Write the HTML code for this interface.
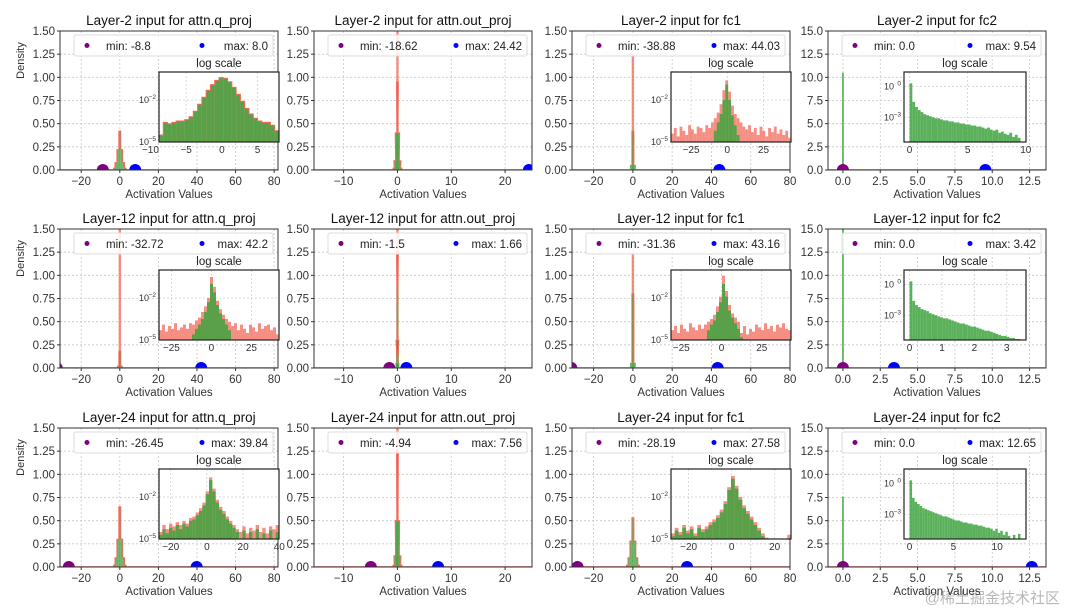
<!DOCTYPE html>
<html><head><meta charset="utf-8">
<style>
html,body{margin:0;padding:0;background:#fff;}
svg{display:block;font-family:"Liberation Sans","DejaVu Sans",sans-serif;}
</style></head>
<body>
<svg id="fig" width="1066" height="610" viewBox="0 0 1066 610" xmlns="http://www.w3.org/2000/svg">
<text x="1060" y="603" text-anchor="end" font-size="15" fill="#b8b8b8" font-family="Liberation Sans, Noto Sans CJK SC, sans-serif">@稀土掘金技术社区</text>
</svg>
<script>
// ---------- data ----------
const titles = [
 "Layer-2 input for attn.q_proj","Layer-2 input for attn.out_proj","Layer-2 input for fc1","Layer-2 input for fc2",
 "Layer-12 input for attn.q_proj","Layer-12 input for attn.out_proj","Layer-12 input for fc1","Layer-12 input for fc2",
 "Layer-24 input for attn.q_proj","Layer-24 input for attn.out_proj","Layer-24 input for fc1","Layer-24 input for fc2"];
const minVals = [-8.8,-18.62,-38.88,0.0, -32.72,-1.5,-31.36,0.0, -26.45,-4.94,-28.19,0.0];
const maxVals = [8.0,24.42,44.03,9.54, 42.2,1.66,43.16,3.42, 39.84,7.56,27.58,12.65];
const minLabels = ["-8.8","-18.62","-38.88","0.0","-32.72","-1.5","-31.36","0.0","-26.45","-4.94","-28.19","0.0"];
const maxLabels = ["8.0","24.42","44.03","9.54","42.2","1.66","43.16","3.42","39.84","7.56","27.58","12.65"];
// main-plot histogram near zero: bin width and densities (green)
const mainBinW = [1,0.25,1,0.1, 1,0.1,1,0.1, 1,0.25,1,0.1];
const mainDens = [
 [0.02,0.08,0.22,0.42,0.22,0.08,0.02],
 [0.02,0.1,0.4,0.95,0.4,0.1,0.02],
 [0.05,0.42,0.05],
 [10.5],
 [0.02,0.18,0.02],
 [0.05,0.3,1.25,0.3,0.05],
 [0.05,0.8,0.05],
 [15.5],
 [0.02,0.1,0.3,0.65,0.3,0.1,0.02],
 [0.02,0.12,0.5,1.25,0.5,0.12,0.02],
 [0.02,0.1,0.28,0.53,0.28,0.1,0.02],
 [7.6]];
// red spike at zero (other series), 0 = none
const redSpike = [0,1.6,1.25,0, 1.6,1.6,1.25,0, 0,1.6,0,0];
// inset log10 densities (red = outline series, green = fill series)
const insetRed = [
 [-4.5,-3.6,-3.7,-3.6,-3.5,-3.5,-3.4,-3.2,-2.8,-2.3,-1.8,-1.3,-0.9,-0.6,-0.4,-0.45,-0.7,-1.1,-1.6,-2.1,-2.6,-3.0,-3.3,-3.5,-3.6,-3.6,-3.8,-4.2],
 null,
 [-4.4,-4.0,-4.6,-3.9,-4.2,-4.5,-3.8,-4.1,-4.4,-3.9,-4.0,-4.3,-3.8,-4.0,-3.6,-3.3,-2.9,-2.3,-1.3,-0.6,-1.4,-2.4,-3.0,-3.3,-3.6,-3.9,-4.1,-3.8,-4.3,-4.0,-4.5,-3.9,-4.2,-4.6,-4.0,-4.3,-3.9,-4.4,-4.1,-4.5,-4.2,-4.7],
 null,
 [-4.3,-3.9,-4.4,-4.0,-4.2,-3.8,-4.3,-4.1,-3.9,-4.2,-3.8,-3.9,-3.6,-3.4,-3.0,-2.6,-2.0,-0.5,-1.2,-2.2,-2.8,-3.2,-3.5,-3.7,-4.0,-3.8,-4.3,-3.9,-4.2,-4.5,-3.9,-4.1,-4.4,-3.8,-4.2,-4.0,-3.9,-4.3,-4.1,-4.6],
 null,
 [-4.3,-4.0,-4.5,-3.9,-4.2,-4.4,-3.8,-4.1,-4.3,-3.9,-4.2,-3.9,-3.7,-3.5,-3.2,-2.6,-1.9,-0.4,-1.5,-2.5,-3.1,-3.4,-3.7,-4.5,-4.0,-4.6,-4.2,-4.4,-3.9,-4.1,-4.3,-3.8,-4.2,-4.0,-4.4,-3.9,-4.1,-3.8,-4.2,-4.3],
 null,
 [-4.5,-4.0,-4.3,-3.9,-4.1,-3.8,-4.0,-3.7,-3.9,-3.5,-3.4,-3.1,-2.8,-2.4,-1.6,-0.6,-1.4,-2.2,-2.7,-3.0,-3.4,-3.7,-4.0,-4.3,-4.5,-4.1,-4.6,-4.2,-4.4,-4.0,-4.5,-4.2,-4.6,-4.1,-4.3,-4.0],
 null,
 [-4.6,-4.2,-4.5,-4.0,-4.4,-4.1,-4.6,-4.0,-4.3,-4.1,-3.8,-3.6,-3.3,-2.9,-2.3,-1.3,-0.5,-1.2,-2.0,-2.6,-3.0,-3.4,-3.8,-4.2,-4.6,-4.9,-5.2,-9,-9,-9,-9,-4.7],
 null];
const insetGreen = [
 [-4.5,-3.6,-3.7,-3.6,-3.5,-3.5,-3.4,-3.2,-2.8,-2.3,-1.8,-1.3,-0.9,-0.6,-0.4,-0.45,-0.7,-1.1,-1.6,-2.1,-2.6,-3.0,-3.3,-3.5,-3.6,-3.6,-3.8,-4.2],
 null,
 [-9,-9,-9,-9,-9,-9,-9,-9,-9,-9,-9,-9,-9,-9,-9,-4.2,-3.6,-3.0,-2.0,-0.9,-2.0,-3.1,-3.8,-4.5,-9,-9,-9,-9,-9,-9,-9,-9,-9,-9,-9,-9,-9,-9,-9,-9,-9,-9],
 [0.3,-1.5,-2.0,-2.3,-2.5,-2.7,-2.8,-2.9,-3.0,-3.1,-3.1,-3.2,-3.3,-3.3,-3.4,-3.4,-3.5,-3.5,-3.6,-3.6,-3.7,-3.7,-3.8,-3.8,-3.9,-3.9,-4.0,-4.1,-4.0,-4.2,-4.3,-4.2,-4.5,-4.4,-4.6,-4.7,-4.5,-4.9,-4.7,-5.0],
 [-9,-9,-9,-9,-9,-9,-9,-9,-9,-9,-9,-4.6,-4.2,-3.9,-3.5,-3.0,-2.3,-1.0,-1.6,-2.5,-3.1,-3.5,-3.9,-4.3,-9,-9,-9,-9,-9,-9,-9,-9,-9,-9,-9,-9,-9,-9,-9,-9],
 null,
 [-9,-9,-9,-9,-9,-9,-9,-9,-9,-9,-9,-9,-4.3,-3.9,-3.6,-3.0,-2.3,-1.0,-1.9,-2.9,-3.4,-3.8,-4.2,-4.8,-9,-9,-9,-9,-9,-9,-9,-9,-9,-9,-9,-9,-9,-9,-9,-9],
 [0.3,-1.6,-2.0,-2.2,-2.4,-2.5,-2.6,-2.8,-2.9,-3.0,-3.1,-3.2,-3.3,-3.3,-3.4,-3.5,-3.6,-3.7,-3.8,-3.8,-3.9,-4.0,-4.1,-4.1,-4.2,-4.3,-4.4,-4.5,-4.5,-4.6,-4.7,-4.8,-4.9,-5.0,-5.0,-5.1,-5.2,-5.2,-5.3,-5.3],
 [-4.7,-4.3,-4.6,-4.2,-4.4,-4.0,-4.3,-3.9,-4.1,-3.7,-3.6,-3.3,-3.0,-2.6,-1.8,-0.8,-1.6,-2.4,-2.9,-3.2,-3.6,-3.9,-4.2,-4.5,-9,-4.4,-9,-4.5,-9,-4.3,-9,-4.6,-9,-4.4,-9,-4.5],
 null,
 [-4.8,-4.4,-4.7,-4.2,-4.6,-4.3,-4.8,-4.2,-4.5,-4.3,-4.0,-3.8,-3.5,-3.1,-2.5,-1.5,-0.7,-1.4,-2.2,-2.8,-3.2,-3.6,-4.0,-4.4,-4.8,-5.1,-9,-9,-9,-9,-9,-9],
 [0.3,-1.4,-1.8,-2.0,-2.2,-2.4,-2.5,-2.6,-2.7,-2.8,-2.9,-3.0,-3.1,-3.2,-3.2,-3.3,-3.4,-3.5,-3.6,-3.6,-3.7,-3.8,-3.8,-3.9,-3.9,-4.0,-4.0,-4.1,-4.1,-4.2,-4.3,-4.3,-4.4,-4.6,-4.4,-4.8,-4.6,-5.0,-4.7,-5.1,-9,-5.0,-9,-4.9]];
// tick labels
const xTicksCol = [[-20,0,20,40,60,80],[-10,0,10,20],[-20,0,20,40,60,80],[0,2.5,5,7.5,10,12.5]];
const yTicksA = [0,0.25,0.5,0.75,1,1.25,1.5];
const yTicksB = [0,2.5,5,7.5,10,12.5,15];
const insetXTicks = [[-10,-5,0,5],null,[-25,0,25],[0,5,10],[-25,0,25],null,[-25,0,25],[0,1,2,3],[-20,0,20,40],null,[-20,0,20],[0,5,10]];

// ---------- layout ----------
const NS="http://www.w3.org/2000/svg";
const svg=document.getElementById('fig');
const colL=[60,314,572,828], colW=218, rowT=[31,229,428], rowH=139;
const xDom=[[-31,82],[-15.5,25],[-31,80],[-1,13.6]];
function el(tag,attrs,parent){const e=document.createElementNS(NS,tag);for(const k in attrs)e.setAttribute(k,attrs[k]);(parent||svg).appendChild(e);return e;}
function txt(s,attrs,parent){const e=el('text',attrs,parent);e.textContent=s;return e;}
const RED="#f26a5a", GREEN="#3ea33e";

for(let i=0;i<12;i++){
  const r=Math.floor(i/4), c=i%4;
  const L=colL[c], T=rowT[r], W=colW, H=rowH;
  const g=el('g',{});
  
  
  const [x0,x1]=xDom[c];
  const yMax = c===3?15:1.5;
  const X=v=>L+(v-x0)/(x1-x0)*W;
  const Y=v=>T+H-(v/yMax)*H;
  const clipId='clip'+i;
  const cp=el('clipPath',{id:clipId},g); el('rect',{x:L,y:T,width:W,height:H},cp);
  const yt = c===3?yTicksB:yTicksA;
  yt.forEach(v=>{
    el('line',{x1:L,x2:L+W,y1:Y(v),y2:Y(v),stroke:'#c8c8c8','stroke-width':0.8,'stroke-dasharray':'2,2'},g);
    const t=txt(c===3?v.toFixed(1):v.toFixed(2),{x:L-5,y:Y(v)+4,'text-anchor':'end','font-size':11.5,fill:'#333'},g);
    
    
  });
  xTicksCol[c].forEach(v=>{
    el('line',{x1:X(v),x2:X(v),y1:T,y2:T+H,stroke:'#c8c8c8','stroke-width':0.8,'stroke-dasharray':'2,2'},g);
    el('line',{x1:X(v),x2:X(v),y1:T+H,y2:T+H+3,stroke:'#333'},g);
    const t=txt(c===3?v.toFixed(1):String(v).replace('-','\u2212'),{x:X(v),y:T+H+15,'text-anchor':'middle','font-size':11.5,fill:'#333'},g);
    
    
  });
  yt.forEach(v=>el('line',{x1:L-3,x2:L,y1:Y(v),y2:Y(v),stroke:'#333'},g));
  const pg=el('g',{'clip-path':'url(#'+clipId+')'},g);
  if(redSpike[i]>0){
    const b=el('rect',{x:X(0)-1.2,y:Y(redSpike[i]),width:2.4,height:Y(0)-Y(redSpike[i]),fill:RED,opacity:0.75},pg);
    
    
  }
  const d=mainDens[i], bw=mainBinW[i], n=d.length;
  let pts=[];
  d.forEach((v,k)=>{
    const a=(k-n/2)*bw, bb=a+bw;
    let xa=X(a), xb=X(bb); if(xb-xa<1.5){const m=(xa+xb)/2;xa=m-0.9;xb=m+0.9;}
    const b=el('rect',{x:xa,y:Y(v),width:xb-xa,height:Y(0)-Y(v),fill:GREEN,opacity:0.8},pg);
    
    
    pts.push(xa+','+Y(v),xb+','+Y(v));
  });
  if(c!==3) el('polyline',{points:pts.join(' '),fill:'none',stroke:RED,'stroke-width':1},pg);
  el('line',{x1:L,x2:L+W,y1:Y(0)-0.5,y2:Y(0)-0.5,stroke:RED,'stroke-width':1,opacity:0.6},pg);
  const mn=el('circle',{cx:X(minVals[i]),cy:Y(0),r:6,fill:'#800080'},pg);
  
  
  const mx=el('circle',{cx:X(maxVals[i]),cy:Y(0),r:6,fill:'#0000ff'},pg);
  
  
  el('rect',{x:L,y:T,width:W,height:H,fill:'none',stroke:'#333','stroke-width':1},g);
  const tt=txt(titles[i],{x:L+W/2,y:T-6,'text-anchor':'middle','font-size':13.5,fill:'#111'},g);
  
  
  const xl=txt('Activation Values',{x:L+W/2,y:T+H+28,'text-anchor':'middle','font-size':11.5,fill:'#333'},g);
  
  
  if(c===0){
    const yl=txt('Density',{x:0,y:0,'text-anchor':'middle','font-size':11,fill:'#333',transform:'translate(24,'+(T+H/2-40)+') rotate(-90)'},g);
    
    
  }
  const lg=el('g',{},g);
  
  
  el('rect',{x:L+14,y:T+4,width:W-19,height:21,rx:2,fill:'#fff','fill-opacity':0.85,stroke:'#ddd'},lg);
  el('circle',{cx:L+27,cy:T+14.5,r:2.5,fill:'#800080'},lg);
  txt('min: '+minLabels[i],{x:L+46,y:T+19,'font-size':11.5,fill:'#222'},lg);
  el('circle',{cx:L+W-76,cy:T+14.5,r:2.5,fill:'#0000ff'},lg);
  txt('max: '+maxLabels[i],{x:L+W-10,y:T+19,'text-anchor':'end','font-size':11.5,fill:'#222'},lg);
  if(insetGreen[i]){
    const iw= c===3?122:120, ih=70, il= c===3?L+76:L+W+1-iw, it=T+41;
    const ig=el('g',{},g);
    
    
    el('rect',{x:il,y:it,width:iw,height:ih,fill:'#fff'},ig);
    const lo = c===3?-5.4:-5, hi = c===3?1.4:0;
    let ix0=minVals[i], ix1=maxVals[i];
    if(c===3){ix0=-(maxVals[i]*0.05);ix1=maxVals[i]*1.05;}
    const IX=v=>il+(v-ix0)/(ix1-ix0)*iw;
    const IY=v=>it+ih-(Math.max(v,lo)-lo)/(hi-lo)*ih;
    const icp=el('clipPath',{id:'ic'+i},ig); el('rect',{x:il,y:it,width:iw,height:ih},icp);
    const inner=el('g',{'clip-path':'url(#ic'+i+')'},ig);
    insetXTicks[i].forEach(v=>{
      el('line',{x1:IX(v),x2:IX(v),y1:it,y2:it+ih,stroke:'#ccc','stroke-width':0.7,'stroke-dasharray':'2,2'},inner);
      txt(String(v).replace('-','\u2212'),{x:IX(v),y:it+ih+11,'text-anchor':'middle','font-size':10,fill:'#333'},ig);
    });
    const yTk = c===3?[[0,'0'],[-3,'\u22123']]:[[-2,'\u22122'],[-5,'\u22125']];
    yTk.forEach(([v,lab])=>{
      el('line',{x1:il,x2:il+iw,y1:IY(v),y2:IY(v),stroke:'#ccc','stroke-width':0.7,'stroke-dasharray':'2,2'},inner);
      txt('10',{x:il-10,y:IY(v)+3,'text-anchor':'end','font-size':9,fill:'#333'},ig);
      txt(lab,{x:il-3,y:IY(v)-1,'text-anchor':'end','font-size':6.5,fill:'#333'},ig);
    });
    const drawH=(arr,fill,op)=>{
      const m=arr.length; let p=[];
      const x0b = c===3?0:minVals[i], bwb = c===3?maxVals[i]/m:(maxVals[i]-minVals[i])/m;
      arr.forEach((v,k)=>{
        const xa=IX(x0b+k*bwb), xb=IX(x0b+(k+1)*bwb);
        if(v>-8){
          const b=el('rect',{x:xa,y:IY(v),width:Math.max(xb-xa,0.6),height:it+ih-IY(v),fill:fill,opacity:op},inner);
          
          
        }
        p.push(xa+','+IY(v>-8?v:lo),xb+','+IY(v>-8?v:lo));
      });
      return p;
    };
    if(insetRed[i]){ drawH(insetRed[i],RED,0.75); }
    const pg2=drawH(insetGreen[i],GREEN,0.85);
    if(insetRed[i] && i===0) el('polyline',{points:pg2.join(' '),fill:'none',stroke:RED,'stroke-width':1},inner);
    el('rect',{x:il,y:it,width:iw,height:ih,fill:'none',stroke:'#222','stroke-width':1.2},ig);
    txt('log scale',{x:il+iw/2,y:it-5,'text-anchor':'middle','font-size':11.5,fill:'#222'},ig);
  }
}
</script>
</body></html>
